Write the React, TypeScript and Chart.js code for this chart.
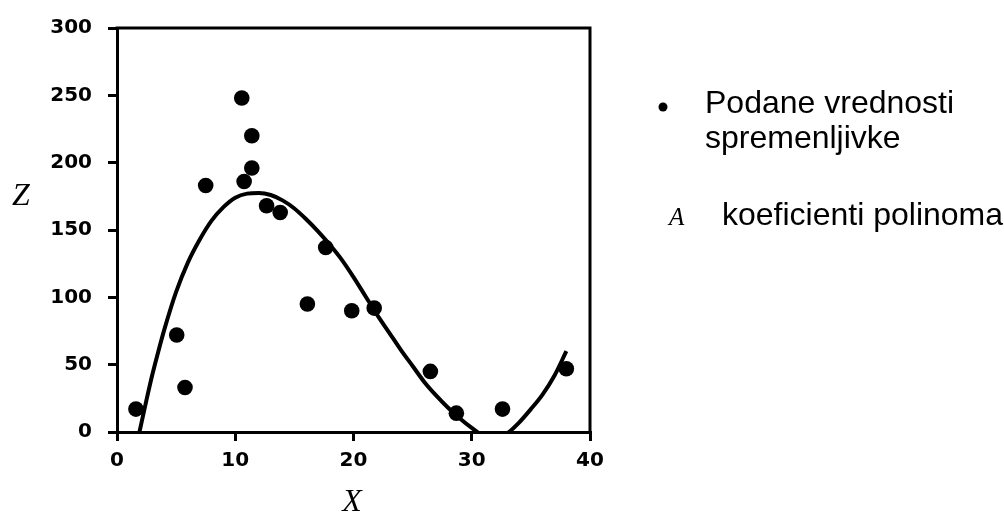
import React, { useEffect, useRef } from "react";
import { Chart, registerables } from "chart.js";

Chart.register(...registerables);

// Measured samples of variable Z against X
const pointX = [1.6, 5.05, 5.75, 7.5, 10.55, 11.4, 11.4, 10.75, 12.65, 13.8, 16.1, 17.65, 19.85, 21.75, 26.5, 28.7, 32.6, 38.0];
const pointZ = [17, 72, 33, 183, 248, 220, 196, 186, 168, 163, 95, 137, 90, 92, 45, 14, 17, 47];

// Fitted polynomial curve, sampled along X
const curveX = [1.9, 2.5, 3, 3.5, 4, 5, 6, 7, 8, 9, 10, 11, 12, 13, 14, 15, 16, 17, 18, 19, 20, 21, 22, 23, 24, 25, 26, 27, 28, 29, 30, 31, 32, 33, 34, 35, 36, 37, 38];
const curveZ = [0, 24, 43, 60, 76, 104, 126, 143, 157, 167, 174, 177, 177.5, 176, 172, 166, 158, 149, 139, 128, 115, 101, 87, 74, 61, 49, 37, 27, 18, 10, 3, -3, -5, -1, 7, 17, 28, 42, 60];

// Axis ticks
const xTicks = [0, 10, 20, 30, 40];
const yTicks = [0, 50, 100, 150, 200, 250, 300];

// Axis titles and legend text
const xTitle = "X";
const yTitle = "Z";
const legendData = ["Podane vrednosti", "spremenljivke"];
const legendCoefSymbol = "A";
const legendCoef = "koeficienti polinoma";

const tickFont = { family: "'DejaVu Sans'", size: 20, weight: "bold" as const };

const frameAndText = {
  id: "frameAndText",
  afterDatasetsDraw(chart: Chart) {
    const { ctx, chartArea } = chart;
    ctx.save();
    ctx.strokeStyle = "#000";
    ctx.lineWidth = 3;
    ctx.lineCap = "square";
    ctx.beginPath();
    ctx.moveTo(chartArea.left, chartArea.top);
    ctx.lineTo(chartArea.right, chartArea.top);
    ctx.lineTo(chartArea.right, chartArea.bottom);
    ctx.stroke();
    ctx.restore();
  },
  afterDraw(chart: Chart) {
    const { ctx } = chart;
    ctx.save();
    ctx.fillStyle = "#000";
    ctx.textBaseline = "alphabetic";

    // axis titles
    ctx.font = "italic 32px 'Liberation Serif'";
    ctx.textAlign = "left";
    ctx.fillText(yTitle, 12, 205);
    ctx.textAlign = "center";
    ctx.fillText(xTitle, 352, 511);

    // legend
    ctx.textAlign = "left";
    ctx.beginPath();
    ctx.arc(663, 107, 4.5, 0, Math.PI * 2);
    ctx.fill();
    ctx.font = "32px 'Liberation Sans'";
    ctx.fillText(legendData[0], 705, 113);
    ctx.fillText(legendData[1], 705, 148);

    ctx.font = "italic 25px 'Liberation Serif'";
    ctx.fillText(legendCoefSymbol, 669, 225);
    ctx.font = "32px 'Liberation Sans'";
    ctx.fillText(legendCoef, 722, 225);
    ctx.restore();
  },
};

export default function App() {
  const canvasRef = useRef<HTMLCanvasElement | null>(null);

  useEffect(() => {
    const canvas = canvasRef.current;
    if (!canvas) return;
    const chart = new Chart(canvas, {
      type: "scatter",
      data: {
        datasets: [
          {
            label: "Podane vrednosti spremenljivke",
            data: pointX.map((x, i) => ({ x, y: pointZ[i] })),
            backgroundColor: "#000",
            borderWidth: 0,
            pointRadius: 7.8,
            pointHoverRadius: 7.8,
          },
          {
            label: "polinom",
            data: curveX.map((x, i) => ({ x, y: curveZ[i] })),
            showLine: true,
            borderColor: "#000",
            borderWidth: 4,
            pointRadius: 0,
            cubicInterpolationMode: "monotone",
          },
        ],
      },
      options: {
        responsive: false,
        animation: false,
        devicePixelRatio: 1,
        layout: { padding: { left: 0, top: 24, right: 414, bottom: 0 } },
        plugins: {
          legend: { display: false },
          tooltip: { enabled: false },
        },
        scales: {
          x: {
            type: "linear",
            position: "bottom",
            min: 0,
            max: 40,
            afterBuildTicks: (scale: any) => {
              scale.ticks = xTicks.map((v) => ({ value: v }));
            },
            afterFit: (scale: any) => {
              scale.height = 81;
            },
            ticks: { color: "#000", font: tickFont, padding: 8, maxRotation: 0 },
            grid: {
              display: true,
              drawOnChartArea: false,
              drawTicks: true,
              tickLength: 9,
              lineWidth: 3,
              color: "#000",
            },
            border: { display: true, width: 3, color: "#000" },
          },
          y: {
            type: "linear",
            position: "left",
            min: 0,
            max: 300,
            afterBuildTicks: (scale: any) => {
              scale.ticks = yTicks.map((v) => ({ value: v }));
            },
            afterFit: (scale: any) => {
              scale.width = 117;
            },
            ticks: { color: "#000", font: tickFont, padding: 16 },
            grid: {
              display: true,
              drawOnChartArea: false,
              drawTicks: true,
              tickLength: 9,
              lineWidth: 3,
              color: "#000",
            },
            border: { display: true, width: 3, color: "#000" },
          },
        },
      },
      plugins: [frameAndText],
    });
    return () => chart.destroy();
  }, []);

  return (
    <div style={{ position: "absolute", left: 0, top: 0, width: 1004, height: 513, background: "#fff" }}>
      <canvas ref={canvasRef} width={1004} height={513} style={{ width: 1004, height: 513, display: "block" }} />
    </div>
  );
}
